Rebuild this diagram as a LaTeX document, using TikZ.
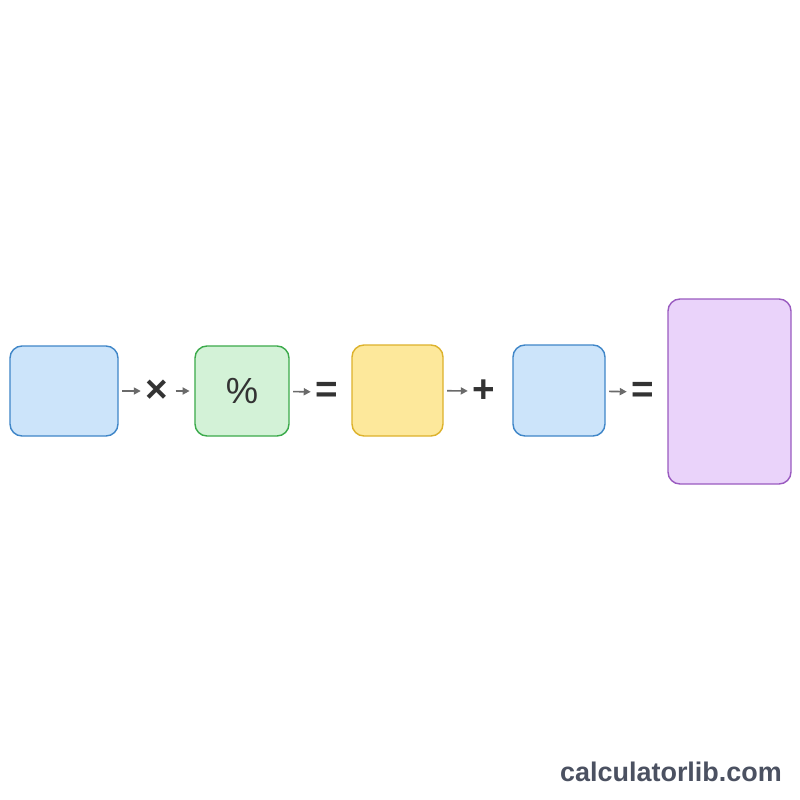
\documentclass[tikz,border=0pt]{standalone}
\usepackage{fontspec}
\setmainfont{Liberation Sans}
\usetikzlibrary{positioning, arrows.meta}

\definecolor{bluefill}{HTML}{CCE4FA}
\definecolor{blueline}{HTML}{3F86C8}
\definecolor{greenfill}{HTML}{D3F2D7}
\definecolor{greenline}{HTML}{3BAA4B}
\definecolor{yellowfill}{HTML}{FDE89B}
\definecolor{yellowline}{HTML}{DDB22C}
\definecolor{purplefill}{HTML}{EAD3FA}
\definecolor{purpleline}{HTML}{9A5BC0}
\definecolor{opgray}{HTML}{333333}
\definecolor{arrowgray}{HTML}{6A6A6A}
\definecolor{brandgray}{HTML}{4B5161}

\tikzset{
  box/.style={draw, rounded corners=0.36cm, line width=1.2pt, inner sep=0pt},
  op/.style={text=opgray, font=\fontsize{33}{33}\selectfont\bfseries, inner sep=0pt, minimum width=0.6cm, minimum height=0.6cm},
  link/.style={-{Triangle[length=6pt,width=6pt]}, arrowgray, line width=1.4pt, shorten <=3pt, shorten >=4pt}
}

\begin{document}
\begin{tikzpicture}[x=0.03cm, y=-0.03cm]
                \fill[white] (0,0) rectangle (800,800);
                \useasboundingbox (0,0) rectangle (800,800);

                \node[box, fill=bluefill, draw=blueline, minimum width=3.24cm, minimum height=2.7cm] (Base) at (64,391) {};
                \node[op] (Times) at (157,391) {×};
                \node[box, fill=greenfill, draw=greenline, minimum width=2.82cm, minimum height=2.7cm, font=\fontsize{31}{31}\selectfont, text=opgray] (Percent) at (242,391) {\%};
                \node[op] (Equals A) at (327,392) {=};
                \node[box, fill=yellowfill, draw=yellowline, minimum width=2.73cm, minimum height=2.73cm] (Part) at (397.5,390.5) {};
                \node[op] (Plus) at (484,391) {+};
                \node[box, fill=bluefill, draw=blueline, minimum width=2.76cm, minimum height=2.73cm] (Base B) at (559,390.5) {};
                \node[op] (Equals B) at (643,392) {=};
                \node[box, fill=purplefill, draw=purpleline, minimum width=3.69cm, minimum height=5.55cm] (Result) at (729.5,391.5) {};

                \node[text=brandgray, font=\fontsize{23}{23}\selectfont\bfseries] (Brand) at (671,772) {calculatorlib.com};

                \draw[link] (Base) -- (Times);
                \draw[link, shorten <=6pt] (Times) -- (Percent);
                \draw[link] (Percent) -- (Equals A);
                \draw[link] (Part) -- (Plus);
                \draw[link] (Base B) -- (Equals B);

            \end{tikzpicture}
\end{document}
